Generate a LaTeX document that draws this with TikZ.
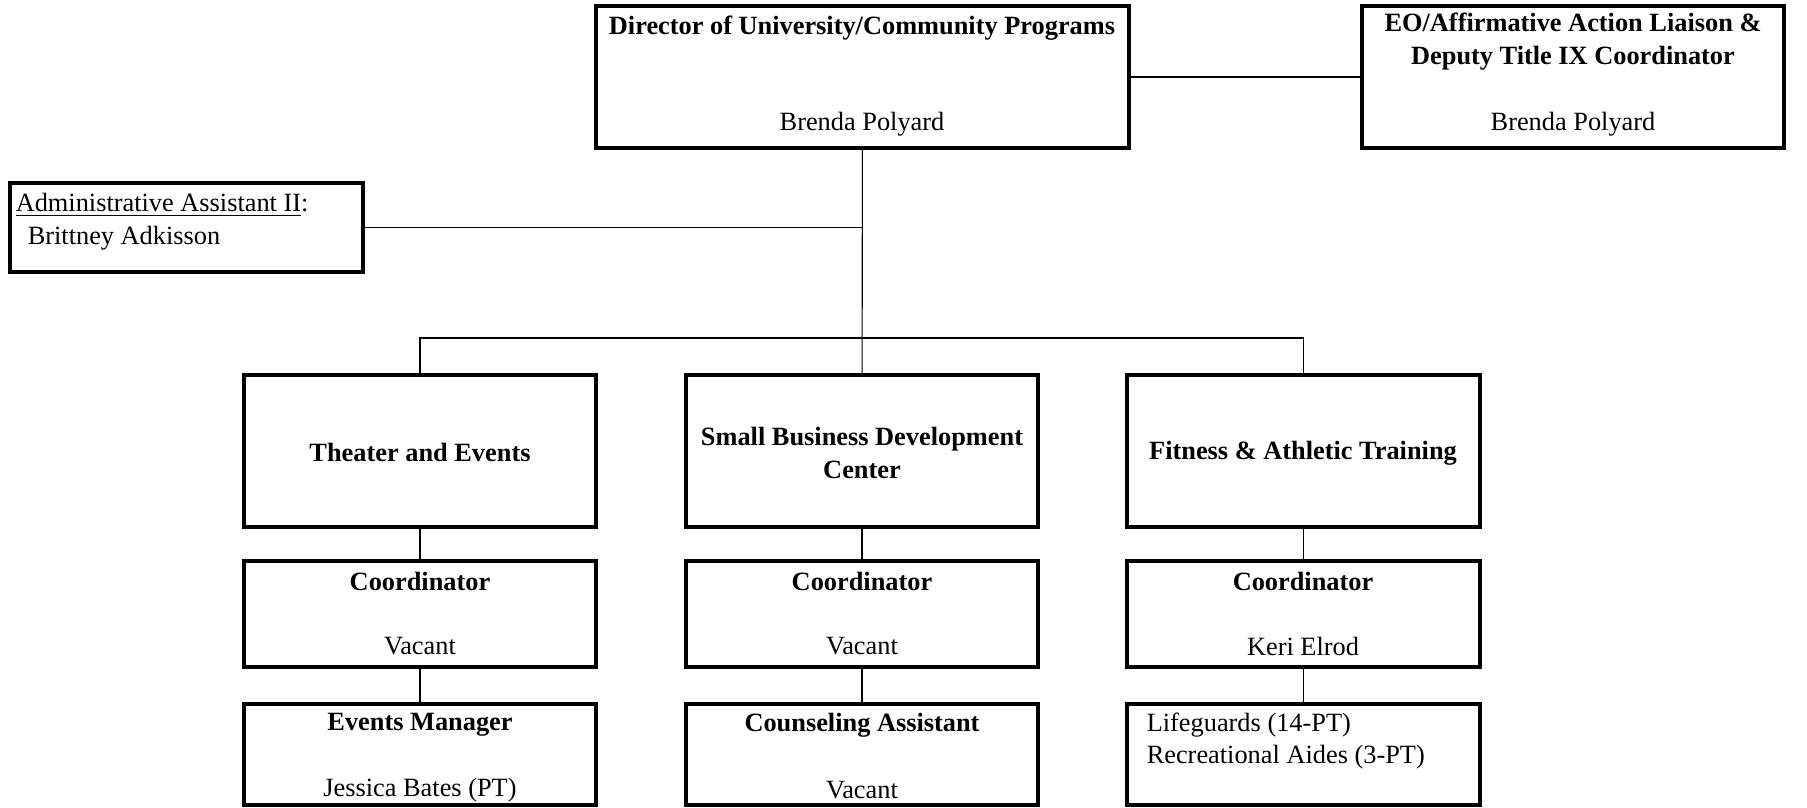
\documentclass[tikz,border=0pt]{standalone}
\usepackage{fontspec}
\setmainfont{Liberation Serif}
\usepackage{tikz}
\usetikzlibrary{fit}

\tikzset{
    orgbox/.style={draw, line width=2pt, inner sep=0pt},
    title/.style={font=\fontsize{12}{15}\selectfont\bfseries, align=center},
    person/.style={font=\fontsize{12}{14.5}\selectfont},
    link/.style={line width=0.5pt}
}

\begin{document}
\begin{tikzpicture}[x=0.016cm, y=-0.016cm]
    \useasboundingbox (0,0) rectangle (1807,808);

    % top row
    \node[orgbox, fit={(596,6) (1129,148)}] (dir) {};
    \node[orgbox, fit={(1362,6) (1784,148)}] (eo) {};
    \node[orgbox, fit={(10,183) (363,272)}] (adm) {};

    \node[title] (dirtitle) at (862,28) {Director of University/Community Programs};
    \node[person] (dirname) at (862,124) {Brenda Polyard};
    \node[title] (eotitle) at (1573,42) {EO/Affirmative Action Liaison \&\\Deputy Title IX Coordinator};
    \node[person] (eoname) at (1573,124) {Brenda Polyard};
    \node[person, anchor=west] (admtitle) at (8,205) {\underline{Administrative Assistant II}:};
    \node[person, anchor=west] (admname) at (20,238) {Brittney Adkisson};

    % units, coordinators and staff
    \foreach \col/\xl/\xr in {th/244/596, sb/686/1038, fi/1127/1480} {
        \node[orgbox, fit={(\xl,375) (\xr,527)}] (\col-unit) {};
        \node[orgbox, fit={(\xl,561) (\xr,667)}] (\col-coord) {};
        \node[orgbox, fit={(\xl,704) (\xr,805)}] (\col-staff) {};
        \draw[link] (\col-unit) -- (\col-coord);
        \draw[link] (\col-coord) -- (\col-staff);
    }

    \node[title] (thname) at (420,452) {Theater and Events};
    \node[title] (sbname) at (862,453) {Small Business Development\\Center};
    \node[title] (finame) at (1303,453) {Fitness \& Athletic Training};

    \foreach \col/\x/\who in {th/420/Vacant, sb/862/Vacant, fi/1303/Keri Elrod} {
        \node[title] (\col-coordtitle) at (\x,581) {Coordinator};
        \node[person] (\col-coordname) at (\x,646) {\who};
    }

    \node[title] (thstafftitle) at (420,725) {Events Manager};
    \node[person] (thstaffname) at (420,790) {Jessica Bates (PT)};
    \node[title] (sbstafftitle) at (862,725) {Counseling Assistant};
    \node[person] (sbstaffname) at (862,790) {Vacant};
    \node[person, anchor=west, align=left] (fistaff) at (1139,741) {Lifeguards (14-PT)\\Recreational Aides (3-PT)};

    % connectors
    \coordinate (bus) at (862,338);
    \draw[line width=1pt] (dir) -- (eo);
    \draw[link] (dir) -- (sb-unit);
    \draw[link] (adm.east) -- (adm.east -| dir.south);
    \draw[link] (th-unit.north) |- (bus) -| (fi-unit.north);
\end{tikzpicture}
\end{document}
